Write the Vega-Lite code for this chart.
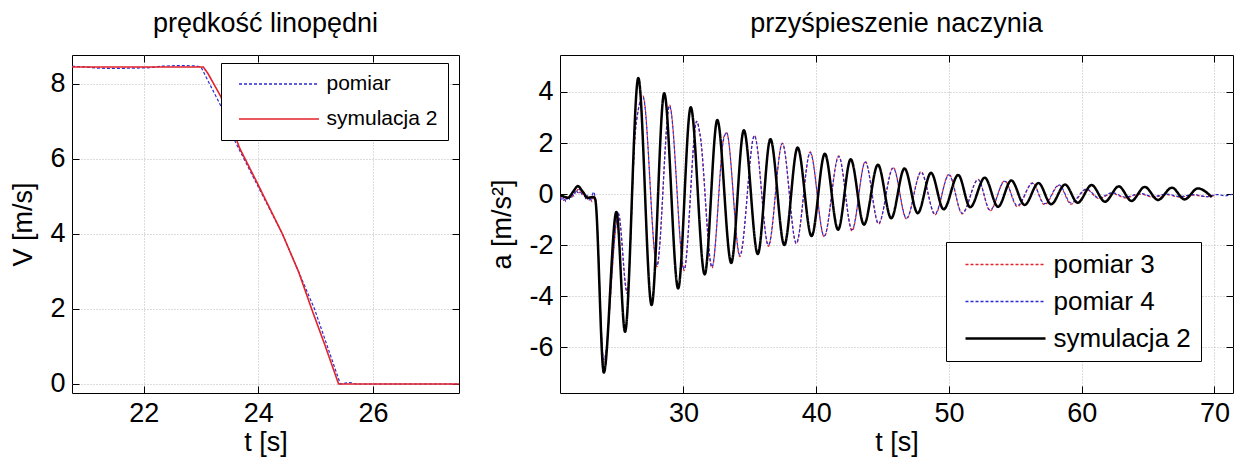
{
  "$schema": "https://vega.github.io/schema/vega-lite/v6.json",
  "background": "white",
  "padding": {"left": 9, "top": 9, "right": 5, "bottom": 5},
  "bounds": "flush",
  "spacing": 101,
  "config": {
    "font": "Liberation Sans",
    "view": {"stroke": "black", "strokeWidth": 1},
    "axis": {
      "labelFontSize": 27, "titleFontSize": 27, "titleFontWeight": "normal",
      "labelFont": "Liberation Sans", "titleFont": "Liberation Sans",
      "labelColor": "black", "titleColor": "black",
      "domain": false, "tickColor": "black", "tickSize": -7, "tickWidth": 1,
      "grid": true, "gridColor": "#b8b8b8", "gridDash": [1, 2], "gridWidth": 1,
      "labelPadding": 14, "titlePadding": 12
    },
    "axisX": {"titlePadding": 3},
    "title": {"fontSize": 27, "fontWeight": "normal", "font": "Liberation Sans", "color": "black", "anchor": "middle", "baseline": "alphabetic", "offset": 17},
    "legend": {"labelFont": "Liberation Sans", "labelColor": "black"}
  },
  "resolve": {
    "scale": {"color": "independent", "strokeDash": "independent", "x": "independent", "y": "independent"},
    "legend": {"color": "independent", "strokeDash": "independent"}
  },
  "datasets": {
    "vel": [
      {"t": 20.75, "V": 8.47, "s": "pomiar"},
      {"t": 21.0, "V": 8.45, "s": "pomiar"},
      {"t": 21.2, "V": 8.42, "s": "pomiar"},
      {"t": 21.5, "V": 8.41, "s": "pomiar"},
      {"t": 21.8, "V": 8.42, "s": "pomiar"},
      {"t": 22.1, "V": 8.43, "s": "pomiar"},
      {"t": 22.3, "V": 8.47, "s": "pomiar"},
      {"t": 22.6, "V": 8.49, "s": "pomiar"},
      {"t": 22.9, "V": 8.48, "s": "pomiar"},
      {"t": 23.0, "V": 8.45, "s": "pomiar"},
      {"t": 23.35, "V": 7.4, "s": "pomiar"},
      {"t": 23.6, "V": 6.45, "s": "pomiar"},
      {"t": 23.8, "V": 5.85, "s": "pomiar"},
      {"t": 24.0, "V": 5.25, "s": "pomiar"},
      {"t": 24.42, "V": 4.0, "s": "pomiar"},
      {"t": 24.98, "V": 2.0, "s": "pomiar"},
      {"t": 25.43, "V": 0.0, "s": "pomiar"},
      {"t": 25.6, "V": 0.04, "s": "pomiar"},
      {"t": 25.7, "V": 0.0, "s": "pomiar"},
      {"t": 27.5, "V": 0.0, "s": "pomiar"},
      {"t": 20.75, "V": 8.45, "s": "symulacja 2"},
      {"t": 23.04, "V": 8.45, "s": "symulacja 2"},
      {"t": 23.12, "V": 8.28, "s": "symulacja 2"},
      {"t": 23.35, "V": 7.65, "s": "symulacja 2"},
      {"t": 23.67, "V": 6.3, "s": "symulacja 2"},
      {"t": 24.0, "V": 5.3, "s": "symulacja 2"},
      {"t": 24.42, "V": 4.0, "s": "symulacja 2"},
      {"t": 24.7, "V": 3.0, "s": "symulacja 2"},
      {"t": 24.93, "V": 2.0, "s": "symulacja 2"},
      {"t": 25.17, "V": 1.0, "s": "symulacja 2"},
      {"t": 25.4, "V": 0.0, "s": "symulacja 2"},
      {"t": 27.5, "V": 0.0, "s": "symulacja 2"}
    ],
    "acc": [
      {"t": 20.7, "a": -0.08, "s": "pomiar 3"},
      {"t": 20.85, "a": -0.2, "s": "pomiar 3"},
      {"t": 21.0, "a": -0.25, "s": "pomiar 3"},
      {"t": 21.15, "a": -0.1, "s": "pomiar 3"},
      {"t": 21.3, "a": -0.2, "s": "pomiar 3"},
      {"t": 21.45, "a": -0.05, "s": "pomiar 3"},
      {"t": 21.6, "a": -0.12, "s": "pomiar 3"},
      {"t": 21.75, "a": 0.08, "s": "pomiar 3"},
      {"t": 21.9, "a": 0.05, "s": "pomiar 3"},
      {"t": 22.05, "a": 0.18, "s": "pomiar 3"},
      {"t": 22.2, "a": 0.05, "s": "pomiar 3"},
      {"t": 22.35, "a": 0.12, "s": "pomiar 3"},
      {"t": 22.5, "a": -0.1, "s": "pomiar 3"},
      {"t": 22.65, "a": -0.02, "s": "pomiar 3"},
      {"t": 22.8, "a": -0.22, "s": "pomiar 3"},
      {"t": 22.95, "a": -0.1, "s": "pomiar 3"},
      {"t": 23.1, "a": -0.3, "s": "pomiar 3"},
      {"t": 23.25, "a": -0.05, "s": "pomiar 3"},
      {"t": 23.38, "a": -0.25, "s": "pomiar 3"},
      {"t": 24.0, "a": -6.6, "s": "pomiar 3"},
      {"t": 25.1, "a": -0.8, "s": "pomiar 3"},
      {"t": 25.75, "a": -3.8, "s": "pomiar 3"},
      {"t": 26.4, "a": 2.55, "s": "pomiar 3"},
      {"t": 26.95, "a": 3.85, "s": "pomiar 3"},
      {"t": 28.0, "a": -2.85, "s": "pomiar 3"},
      {"t": 28.95, "a": 3.5, "s": "pomiar 3"},
      {"t": 30.05, "a": -3.0, "s": "pomiar 3"},
      {"t": 31.0, "a": 2.85, "s": "pomiar 3"},
      {"t": 31.25, "a": 2.3, "s": "pomiar 3"},
      {"t": 32.15, "a": -2.9, "s": "pomiar 3"},
      {"t": 33.05, "a": 2.25, "s": "pomiar 3"},
      {"t": 33.25, "a": 2.4, "s": "pomiar 3"},
      {"t": 34.25, "a": -2.45, "s": "pomiar 3"},
      {"t": 35.35, "a": 2.3, "s": "pomiar 3"},
      {"t": 36.4, "a": -2.05, "s": "pomiar 3"},
      {"t": 37.45, "a": 2.0, "s": "pomiar 3"},
      {"t": 38.5, "a": -1.95, "s": "pomiar 3"},
      {"t": 39.55, "a": 1.65, "s": "pomiar 3"},
      {"t": 40.6, "a": -1.68, "s": "pomiar 3"},
      {"t": 41.7, "a": 1.5, "s": "pomiar 3"},
      {"t": 42.7, "a": -1.45, "s": "pomiar 3"},
      {"t": 43.7, "a": 1.28, "s": "pomiar 3"},
      {"t": 44.7, "a": -1.18, "s": "pomiar 3"},
      {"t": 45.8, "a": 1.05, "s": "pomiar 3"},
      {"t": 46.8, "a": -0.98, "s": "pomiar 3"},
      {"t": 47.9, "a": 0.88, "s": "pomiar 3"},
      {"t": 48.95, "a": -0.82, "s": "pomiar 3"},
      {"t": 50.0, "a": 0.78, "s": "pomiar 3"},
      {"t": 51.0, "a": -0.78, "s": "pomiar 3"},
      {"t": 52.2, "a": 0.58, "s": "pomiar 3"},
      {"t": 53.1, "a": -0.66, "s": "pomiar 3"},
      {"t": 54.2, "a": 0.52, "s": "pomiar 3"},
      {"t": 55.15, "a": -0.5, "s": "pomiar 3"},
      {"t": 56.3, "a": 0.44, "s": "pomiar 3"},
      {"t": 57.2, "a": -0.42, "s": "pomiar 3"},
      {"t": 58.3, "a": 0.34, "s": "pomiar 3"},
      {"t": 59.2, "a": -0.4, "s": "pomiar 3"},
      {"t": 60.35, "a": 0.18, "s": "pomiar 3"},
      {"t": 61.3, "a": -0.18, "s": "pomiar 3"},
      {"t": 62.3, "a": 0.02, "s": "pomiar 3"},
      {"t": 63.3, "a": -0.15, "s": "pomiar 3"},
      {"t": 64.4, "a": 0.0, "s": "pomiar 3"},
      {"t": 65.4, "a": -0.13, "s": "pomiar 3"},
      {"t": 66.4, "a": -0.02, "s": "pomiar 3"},
      {"t": 67.4, "a": -0.12, "s": "pomiar 3"},
      {"t": 68.4, "a": -0.04, "s": "pomiar 3"},
      {"t": 69.4, "a": -0.1, "s": "pomiar 3"},
      {"t": 70.0, "a": -0.05, "s": "pomiar 3"},
      {"t": 20.7, "a": -0.12, "s": "pomiar 4"},
      {"t": 20.85, "a": -0.25, "s": "pomiar 4"},
      {"t": 21.0, "a": -0.12, "s": "pomiar 4"},
      {"t": 21.15, "a": -0.3, "s": "pomiar 4"},
      {"t": 21.3, "a": -0.08, "s": "pomiar 4"},
      {"t": 21.45, "a": -0.22, "s": "pomiar 4"},
      {"t": 21.6, "a": 0.02, "s": "pomiar 4"},
      {"t": 21.75, "a": -0.08, "s": "pomiar 4"},
      {"t": 21.9, "a": 0.15, "s": "pomiar 4"},
      {"t": 22.05, "a": 0.05, "s": "pomiar 4"},
      {"t": 22.2, "a": 0.2, "s": "pomiar 4"},
      {"t": 22.35, "a": -0.02, "s": "pomiar 4"},
      {"t": 22.5, "a": 0.08, "s": "pomiar 4"},
      {"t": 22.65, "a": -0.2, "s": "pomiar 4"},
      {"t": 22.8, "a": -0.05, "s": "pomiar 4"},
      {"t": 22.95, "a": -0.28, "s": "pomiar 4"},
      {"t": 23.1, "a": -0.08, "s": "pomiar 4"},
      {"t": 23.25, "a": 0.08, "s": "pomiar 4"},
      {"t": 23.38, "a": -0.3, "s": "pomiar 4"},
      {"t": 24.0, "a": -6.5, "s": "pomiar 4"},
      {"t": 25.1, "a": -0.75, "s": "pomiar 4"},
      {"t": 25.75, "a": -3.9, "s": "pomiar 4"},
      {"t": 26.4, "a": 2.6, "s": "pomiar 4"},
      {"t": 26.95, "a": 3.8, "s": "pomiar 4"},
      {"t": 28.0, "a": -2.8, "s": "pomiar 4"},
      {"t": 28.95, "a": 3.45, "s": "pomiar 4"},
      {"t": 30.05, "a": -2.95, "s": "pomiar 4"},
      {"t": 31.0, "a": 2.85, "s": "pomiar 4"},
      {"t": 31.25, "a": 2.35, "s": "pomiar 4"},
      {"t": 32.15, "a": -2.85, "s": "pomiar 4"},
      {"t": 33.05, "a": 2.2, "s": "pomiar 4"},
      {"t": 33.25, "a": 2.4, "s": "pomiar 4"},
      {"t": 34.25, "a": -2.4, "s": "pomiar 4"},
      {"t": 35.35, "a": 2.28, "s": "pomiar 4"},
      {"t": 36.4, "a": -2.0, "s": "pomiar 4"},
      {"t": 37.45, "a": 1.98, "s": "pomiar 4"},
      {"t": 38.5, "a": -1.92, "s": "pomiar 4"},
      {"t": 39.55, "a": 1.62, "s": "pomiar 4"},
      {"t": 40.6, "a": -1.65, "s": "pomiar 4"},
      {"t": 41.7, "a": 1.47, "s": "pomiar 4"},
      {"t": 42.7, "a": -1.4, "s": "pomiar 4"},
      {"t": 43.7, "a": 1.25, "s": "pomiar 4"},
      {"t": 44.7, "a": -1.15, "s": "pomiar 4"},
      {"t": 45.8, "a": 1.02, "s": "pomiar 4"},
      {"t": 46.8, "a": -0.95, "s": "pomiar 4"},
      {"t": 47.9, "a": 0.85, "s": "pomiar 4"},
      {"t": 48.95, "a": -0.78, "s": "pomiar 4"},
      {"t": 50.0, "a": 0.75, "s": "pomiar 4"},
      {"t": 51.0, "a": -0.75, "s": "pomiar 4"},
      {"t": 52.2, "a": 0.56, "s": "pomiar 4"},
      {"t": 53.1, "a": -0.63, "s": "pomiar 4"},
      {"t": 54.2, "a": 0.5, "s": "pomiar 4"},
      {"t": 55.15, "a": -0.45, "s": "pomiar 4"},
      {"t": 56.3, "a": 0.42, "s": "pomiar 4"},
      {"t": 57.2, "a": -0.38, "s": "pomiar 4"},
      {"t": 58.3, "a": 0.36, "s": "pomiar 4"},
      {"t": 59.2, "a": -0.35, "s": "pomiar 4"},
      {"t": 60.35, "a": 0.2, "s": "pomiar 4"},
      {"t": 61.3, "a": -0.15, "s": "pomiar 4"},
      {"t": 62.3, "a": 0.05, "s": "pomiar 4"},
      {"t": 63.3, "a": -0.12, "s": "pomiar 4"},
      {"t": 64.4, "a": 0.02, "s": "pomiar 4"},
      {"t": 65.4, "a": -0.1, "s": "pomiar 4"},
      {"t": 66.4, "a": 0.0, "s": "pomiar 4"},
      {"t": 67.4, "a": -0.1, "s": "pomiar 4"},
      {"t": 68.4, "a": -0.02, "s": "pomiar 4"},
      {"t": 69.4, "a": -0.1, "s": "pomiar 4"},
      {"t": 70.2, "a": -0.02, "s": "pomiar 4"},
      {"t": 70.8, "a": -0.07, "s": "pomiar 4"},
      {"t": 71.35, "a": -0.01, "s": "pomiar 4"},
      {"t": 20.7, "a": -0.05, "s": "symulacja 2"},
      {"t": 21.0, "a": -0.1, "s": "symulacja 2"},
      {"t": 21.3, "a": -0.15, "s": "symulacja 2"},
      {"t": 21.7, "a": 0.1, "s": "symulacja 2"},
      {"t": 22.05, "a": 0.31, "s": "symulacja 2"},
      {"t": 22.4, "a": 0.1, "s": "symulacja 2"},
      {"t": 22.8, "a": -0.15, "s": "symulacja 2"},
      {"t": 23.2, "a": -0.12, "s": "symulacja 2"},
      {"t": 23.35, "a": -0.2, "s": "symulacja 2"},
      {"t": 24.0, "a": -7.0, "s": "symulacja 2"},
      {"t": 24.95, "a": -0.7, "s": "symulacja 2"},
      {"t": 25.6, "a": -5.4, "s": "symulacja 2"},
      {"t": 26.6, "a": 4.55, "s": "symulacja 2"},
      {"t": 27.6, "a": -4.35, "s": "symulacja 2"},
      {"t": 28.55, "a": 3.95, "s": "symulacja 2"},
      {"t": 29.6, "a": -3.7, "s": "symulacja 2"},
      {"t": 30.55, "a": 3.4, "s": "symulacja 2"},
      {"t": 31.6, "a": -3.15, "s": "symulacja 2"},
      {"t": 32.55, "a": 2.9, "s": "symulacja 2"},
      {"t": 33.6, "a": -2.7, "s": "symulacja 2"},
      {"t": 34.55, "a": 2.5, "s": "symulacja 2"},
      {"t": 35.6, "a": -2.35, "s": "symulacja 2"},
      {"t": 36.55, "a": 2.15, "s": "symulacja 2"},
      {"t": 37.6, "a": -2.0, "s": "symulacja 2"},
      {"t": 38.6, "a": 1.82, "s": "symulacja 2"},
      {"t": 39.65, "a": -1.65, "s": "symulacja 2"},
      {"t": 40.65, "a": 1.58, "s": "symulacja 2"},
      {"t": 41.65, "a": -1.4, "s": "symulacja 2"},
      {"t": 42.6, "a": 1.36, "s": "symulacja 2"},
      {"t": 43.6, "a": -1.2, "s": "symulacja 2"},
      {"t": 44.65, "a": 1.15, "s": "symulacja 2"},
      {"t": 45.65, "a": -0.95, "s": "symulacja 2"},
      {"t": 46.65, "a": 1.0, "s": "symulacja 2"},
      {"t": 47.65, "a": -0.75, "s": "symulacja 2"},
      {"t": 48.65, "a": 0.83, "s": "symulacja 2"},
      {"t": 49.6, "a": -0.6, "s": "symulacja 2"},
      {"t": 50.7, "a": 0.75, "s": "symulacja 2"},
      {"t": 51.6, "a": -0.52, "s": "symulacja 2"},
      {"t": 52.7, "a": 0.64, "s": "symulacja 2"},
      {"t": 53.7, "a": -0.5, "s": "symulacja 2"},
      {"t": 54.7, "a": 0.53, "s": "symulacja 2"},
      {"t": 55.7, "a": -0.43, "s": "symulacja 2"},
      {"t": 56.75, "a": 0.43, "s": "symulacja 2"},
      {"t": 57.7, "a": -0.4, "s": "symulacja 2"},
      {"t": 58.75, "a": 0.37, "s": "symulacja 2"},
      {"t": 59.7, "a": -0.34, "s": "symulacja 2"},
      {"t": 60.75, "a": 0.35, "s": "symulacja 2"},
      {"t": 61.75, "a": -0.3, "s": "symulacja 2"},
      {"t": 62.8, "a": 0.3, "s": "symulacja 2"},
      {"t": 63.75, "a": -0.27, "s": "symulacja 2"},
      {"t": 64.75, "a": 0.28, "s": "symulacja 2"},
      {"t": 65.75, "a": -0.23, "s": "symulacja 2"},
      {"t": 66.8, "a": 0.25, "s": "symulacja 2"},
      {"t": 67.75, "a": -0.21, "s": "symulacja 2"},
      {"t": 68.75, "a": 0.22, "s": "symulacja 2"},
      {"t": 69.8, "a": -0.12, "s": "symulacja 2"}
    ]
  },
  "hconcat": [
    {
      "width": 387,
      "height": 338,
      "title": {"text": "prędkość linopędni"},
      "data": {"name": "vel"},
      "resolve": {"axis": {"x": "independent", "y": "independent"}},
      "layer": [
        {
          "mark": {"type": "line", "interpolate": "linear", "clip": true},
          "encoding": {
            "x": {"field": "t", "type": "quantitative",
              "scale": {"domain": [20.75, 27.5], "nice": false, "zero": false},
              "axis": {"orient": "bottom", "values": [22, 24, 26], "title": "t [s]"}},
            "y": {"field": "V", "type": "quantitative",
              "scale": {"domain": [-0.24, 8.77], "nice": false, "zero": false},
              "axis": {"orient": "left", "values": [0, 2, 4, 6, 8], "title": "V [m/s]"}},
            "color": {"field": "s", "type": "nominal",
              "scale": {"domain": ["pomiar", "symulacja 2"], "range": ["#2a2ad4", "#e3222a"]},
              "legend": {"orient": "none", "legendX": 149, "legendY": 8, "title": null, "direction": "vertical",
                "fillColor": "white", "strokeColor": "black", "padding": 10.5, "cornerRadius": 0,
                "labelFontSize": 21, "symbolType": "M-1,0H7", "symbolSize": 400, "symbolOffset": 7,
                "labelOffset": 67, "rowPadding": 13, "symbolStrokeWidth": 1.3,
                "encode": {"symbols": {"update": {"strokeWidth": {"signal": "datum.label === 'symulacja 2' ? 1.6 : 1.4"}}}}}},
            "strokeDash": {"field": "s", "type": "nominal",
              "scale": {"domain": ["pomiar", "symulacja 2"], "range": [[3, 2], [1, 0]]},
              "legend": {"orient": "none", "legendX": 149, "legendY": 8, "title": null, "direction": "vertical",
                "fillColor": "white", "strokeColor": "black", "padding": 10.5, "cornerRadius": 0,
                "labelFontSize": 21, "symbolType": "M-1,0H7", "symbolSize": 400, "symbolOffset": 7,
                "labelOffset": 67, "rowPadding": 13, "symbolStrokeWidth": 1.3,
                "encode": {"symbols": {"update": {"strokeWidth": {"signal": "datum.label === 'symulacja 2' ? 1.6 : 1.4"}}}}}},
            "strokeWidth": {"condition": {"test": "datum.s === 'symulacja 2'", "value": 1.6}, "value": 1.2}
          }
        },
        {
          "mark": {"type": "point", "opacity": 0},
          "encoding": {
            "x": {"field": "t", "type": "quantitative",
              "axis": {"orient": "top", "values": [22, 24, 26], "labels": false, "title": null, "grid": false}},
            "y": {"field": "V", "type": "quantitative",
              "axis": {"orient": "right", "values": [0, 2, 4, 6, 8], "labels": false, "title": null, "grid": false}}
          }
        }
      ]
    },
    {
      "width": 673,
      "height": 338,
      "title": {"text": "przyśpieszenie naczynia"},
      "data": {"name": "acc"},
      "resolve": {"axis": {"x": "independent", "y": "independent"}},
      "layer": [
        {
          "mark": {"type": "line", "interpolate": "monotone", "clip": true},
          "encoding": {
            "x": {"field": "t", "type": "quantitative",
              "scale": {"domain": [20.7, 71.4], "nice": false, "zero": false},
              "axis": {"orient": "bottom", "values": [30, 40, 50, 60, 70], "title": "t [s]"}},
            "y": {"field": "a", "type": "quantitative",
              "scale": {"domain": [-7.8, 5.45], "nice": false, "zero": false},
              "axis": {"orient": "left", "values": [-6, -4, -2, 0, 2, 4], "title": "a [m/s²]",
                "labelExpr": "datum.value < 0 ? '-' + abs(datum.value) : '' + datum.value"}},
            "color": {"field": "s", "type": "nominal",
              "scale": {"domain": ["pomiar 3", "pomiar 4", "symulacja 2"], "range": ["#e3222a", "#2a2ad4", "#000000"]},
              "legend": {"orient": "none", "legendX": 386, "legendY": 187, "title": null, "direction": "vertical",
                "fillColor": "white", "strokeColor": "black", "padding": 9.5, "cornerRadius": 0,
                "labelFontSize": 26, "symbolType": "M-1,0H7", "symbolSize": 400, "symbolOffset": 7,
                "labelOffset": 65, "rowPadding": 11, "symbolStrokeWidth": 1.3,
                "encode": {"symbols": {"update": {"strokeWidth": {"signal": "datum.label === 'symulacja 2' ? 2.5 : 1.4"}}}}}},
            "strokeDash": {"field": "s", "type": "nominal",
              "scale": {"domain": ["pomiar 3", "pomiar 4", "symulacja 2"], "range": [[3, 2], [3, 2], [1, 0]]},
              "legend": {"orient": "none", "legendX": 386, "legendY": 187, "title": null, "direction": "vertical",
                "fillColor": "white", "strokeColor": "black", "padding": 9.5, "cornerRadius": 0,
                "labelFontSize": 26, "symbolType": "M-1,0H7", "symbolSize": 400, "symbolOffset": 7,
                "labelOffset": 65, "rowPadding": 11, "symbolStrokeWidth": 1.3,
                "encode": {"symbols": {"update": {"strokeWidth": {"signal": "datum.label === 'symulacja 2' ? 2.5 : 1.4"}}}}}},
            "strokeWidth": {"condition": {"test": "datum.s === 'symulacja 2'", "value": 2.5}, "value": 1.2}
          }
        },
        {
          "mark": {"type": "point", "opacity": 0},
          "encoding": {
            "x": {"field": "t", "type": "quantitative",
              "axis": {"orient": "top", "values": [30, 40, 50, 60, 70], "labels": false, "title": null, "grid": false}},
            "y": {"field": "a", "type": "quantitative",
              "axis": {"orient": "right", "values": [-6, -4, -2, 0, 2, 4], "labels": false, "title": null, "grid": false}}
          }
        }
      ]
    }
  ]
}
